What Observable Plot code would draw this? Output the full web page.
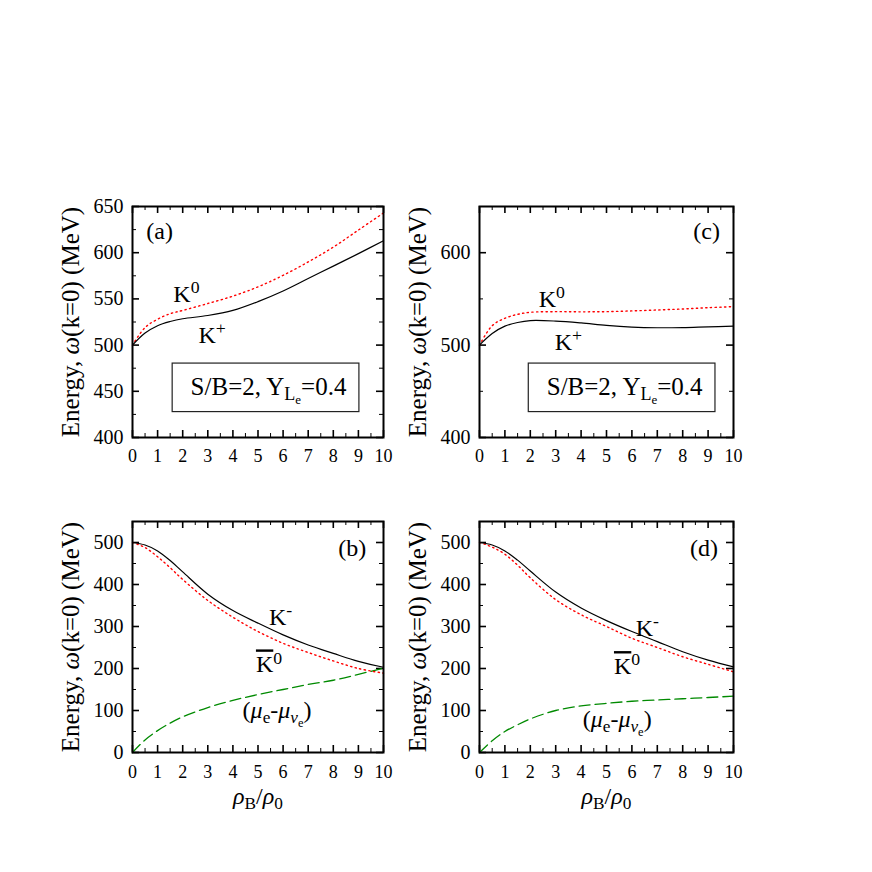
<!DOCTYPE html>
<html><head><meta charset="utf-8">
<script src="https://cdn.jsdelivr.net/npm/d3@7"></script>
<script src="https://cdn.jsdelivr.net/npm/@observablehq/plot@0.6"></script>
<style>
html,body{margin:0;padding:0;background:#fff;}
#chart{position:relative;width:872px;height:872px;background:#fff;overflow:hidden;}
#chart svg{position:absolute;overflow:visible;}
#chart svg text, #chart svg tspan{font-family:'Liberation Serif','DejaVu Serif',serif !important;}
</style></head><body><div id="chart"></div>
<script>
// ---- data (rho_B / rho_0 grid and energies in MeV) ----
const rho = [0, 0.5, 1, 1.5, 2, 3, 4, 5, 6, 7, 8, 9, 10];
// panel (a)
const aKplus  = [500, 513, 521, 525.5, 528.5, 532, 537.5, 547, 558.5, 572, 585.5, 599, 613];
const aK0     = [500, 519, 528, 534, 537.5, 545, 553, 563, 575.5, 590, 606, 624.5, 643];
// panel (c)
const cKplus  = [500, 512.5, 520.5, 524.5, 526.5, 526, 524, 521.3, 519.5, 518.8, 519, 519.8, 520.5];
const cK0     = [500, 521, 529, 533.3, 535.5, 536.2, 536, 536.2, 537, 538, 539.1, 540.5, 541.6];
// panel (b)
const bKminus = [500, 494, 480, 457, 430, 377, 338, 308, 280, 256, 236, 217, 203];
const bK0bar  = [500, 488, 466, 440, 412, 362, 322, 288, 260, 238, 218, 200, 189];
const bMu     = [0, 30, 52, 70, 85, 107, 124, 138, 150, 162, 172, 186, 201];
// panel (d)
const dKminus = [500, 494, 480, 458, 432, 382, 344, 314, 288, 264, 240, 220, 204];
const dK0bar  = [500, 489, 472, 446, 416, 364, 328, 300, 272, 250, 228, 210, 192];
const dMu     = [0, 28, 50, 66, 80, 100, 111, 117, 122, 125, 128, 131, 134];

const xTicks = [0, 1, 2, 3, 4, 5, 6, 7, 8, 9, 10];
const yTicksA = [400, 450, 500, 550, 600, 650];
const yTicksC = [400, 500, 600];
const yTicksB = [0, 100, 200, 300, 400, 500];
const yTicksD = [0, 100, 200, 300, 400, 500];

const yTitle = "Energy, *{ω}(k=0) (MeV)";
const xTitle = "*{ρ}_{B}/*{ρ}_{0}";
const boxText = "S/B=2, Y_{L_{e}}=0.4";
const muText = "(*{μ}_{e}-*{μ}_{*{ν}_{e}})";

// annotation anchors (data units of each panel)
const notesA = [{x: 1.08, y: 623, s: "(a)"}, {x: 2.15, y: 555, s: "K^{0}"}, {x: 3.17, y: 511, s: "K^{+}"}];
const notesC = [{x: 8.94, y: 623, s: "(c)"}, {x: 2.85, y: 550, s: "K^{0}"}, {x: 3.5, y: 503, s: "K^{+}"}];
const notesB = [{x: 8.75, y: 486, s: "(b)"}, {x: 5.9, y: 322, s: "K^{-}"}, {x: 5.44, y: 209, s: "~{K}^{0}"}, {x: 5.76, y: 100, s: muText}];
const notesD = [{x: 8.84, y: 486, s: "(d)"}, {x: 6.61, y: 296, s: "K^{-}"}, {x: 5.81, y: 205, s: "~{K}^{0}"}, {x: 5.42, y: 80, s: muText}];
const boxA = {x1: 1.6, x2: 9.04, y1: 427.5, y2: 480};
const boxC = {x1: 1.94, x2: 9.29, y1: 427.5, y2: 480};

// ---- rendering ----
const FONT = "Liberation Serif";
const STY = {
  solid: {stroke: "#000", strokeWidth: 1.2},
  dotted: {stroke: "#ff0000", strokeWidth: 1.4, strokeDasharray: "1.3,3.4"},
  dashed: {stroke: "#008a00", strokeWidth: 1.3, strokeDasharray: "11,5"}
};
const rows = (vals) => rho.map((x, i) => ({x, y: vals[i]}));

const panels = [
  {id: "a", left: 0, top: 170, width: 392, height: 300, ml: 132, mr: 9, mt: 36, mb: 33,
   yDomain: [400, 650], yTicks: yTicksA, yStep: 25, pad: 12, xlabel: false,
   series: [[aK0, "dotted"], [aKplus, "solid"]], notes: notesA, box: boxA},
  {id: "c", left: 390, top: 170, width: 400, height: 300, ml: 89, mr: 57, mt: 36, mb: 33,
   yDomain: [400, 650], yTicks: yTicksC, yStep: 50, pad: 12, xlabel: false,
   series: [[cK0, "dotted"], [cKplus, "solid"]], notes: notesC, box: boxC},
  {id: "b", left: 0, top: 490, width: 392, height: 320, ml: 132, mr: 9, mt: 31, mb: 58,
   yDomain: [0, 550], yTicks: yTicksB, yStep: 50, pad: 13, xlabel: true,
   series: [[bMu, "dashed"], [bK0bar, "dotted"], [bKminus, "solid"]], notes: notesB},
  {id: "d", left: 390, top: 490, width: 400, height: 320, ml: 89, mr: 57, mt: 31, mb: 58,
   yDomain: [0, 550], yTicks: yTicksD, yStep: 50, pad: 13, xlabel: true,
   series: [[dMu, "dashed"], [dK0bar, "dotted"], [dKminus, "solid"]], notes: notesD}
];

function parseRich(s) {
  let i = 0;
  function seq(inner) {
    const out = []; let buf = "";
    while (i < s.length) {
      const ch = s[i];
      if (inner && ch === "}") { i++; break; }
      if ("^_*~".includes(ch) && s[i + 1] === "{") {
        if (buf) { out.push({t: buf}); buf = ""; }
        i += 2;
        out.push({k: ch, c: seq(true)});
        continue;
      }
      buf += ch; i++;
    }
    if (buf) out.push({t: buf});
    return out;
  }
  return seq(false);
}
function flatten(nodes, st, out) {
  for (const n of nodes) {
    if (n.t !== undefined) { out.push({text: n.t, ...st}); continue; }
    const s2 = {...st};
    if (n.k === "^") { s2.size = st.size * 0.74; s2.off = st.off - st.size * 0.36; }
    else if (n.k === "_") { s2.size = st.size * 0.72; s2.off = st.off + st.size * 0.22; }
    else if (n.k === "*") s2.it = true;
    else if (n.k === "~") s2.bar = true;
    flatten(n.c, s2, out);
  }
  return out;
}
function richify(svg) {
  svg.querySelectorAll("text").forEach(el => {
    el.style.fontFamily = "'Liberation Serif', 'DejaVu Serif', serif";
    const s = el.textContent;
    if (!/[\^_*~]\{/.test(s)) return;
    const base = parseFloat(getComputedStyle(el).fontSize) || 18;
    const leaves = flatten(parseRich(s), {size: base, off: 0, it: false, bar: false}, []);
    while (el.firstChild) el.removeChild(el.firstChild);
    let cur = 0;
    for (const l of leaves) {
      const t = document.createElementNS("http://www.w3.org/2000/svg", "tspan");
      t.setAttribute("font-size", l.size.toFixed(2));
      if (l.off !== cur) { t.setAttribute("dy", (l.off - cur).toFixed(2)); cur = l.off; }
      if (l.it) t.setAttribute("font-style", "italic");
      if (l.bar) t.setAttribute("text-decoration", "overline");
      t.textContent = l.text;
      el.appendChild(t);
    }
  });
}

const chart = document.getElementById("chart");
for (const p of panels) {
  const fw = p.width - p.ml - p.mr, fh = p.height - p.mt - p.mb;
  const yMinor = d3.range(p.yDomain[0], p.yDomain[1] + 0.001, p.yStep).filter(v => !p.yTicks.includes(v));
  const xMinor = d3.range(0.5, 10, 1);
  const M = 7, m = 4;
  const marks = [
    Plot.tickX(xTicks, {x: d => d, insetTop: fh - M, strokeWidth: 1.6}),
    Plot.tickX(xTicks, {x: d => d, insetBottom: fh - M, strokeWidth: 1.6}),
    Plot.tickX(xMinor, {x: d => d, insetTop: fh - m, strokeWidth: 1}),
    Plot.tickX(xMinor, {x: d => d, insetBottom: fh - m, strokeWidth: 1}),
    Plot.tickY(p.yTicks, {y: d => d, insetRight: fw - M, strokeWidth: 1.6}),
    Plot.tickY(p.yTicks, {y: d => d, insetLeft: fw - M, strokeWidth: 1.6}),
    Plot.tickY(yMinor, {y: d => d, insetRight: fw - m, strokeWidth: 1}),
    Plot.tickY(yMinor, {y: d => d, insetLeft: fw - m, strokeWidth: 1}),
    Plot.axisX({ticks: xTicks, tickSize: 0, tickPadding: p.pad, label: null, fontSize: 18, fontFamily: FONT}),
    Plot.axisY({ticks: p.yTicks, tickSize: 0, tickPadding: 9, label: null, fontSize: 20, fontFamily: FONT}),
    Plot.text([yTitle], {frameAnchor: "left", textAnchor: "middle", lineAnchor: "middle", dx: -62, rotate: -90, fontSize: 25, fontFamily: FONT, text: d => d})
  ];
  if (p.xlabel) marks.push(Plot.text([xTitle], {frameAnchor: "bottom", textAnchor: "middle", lineAnchor: "middle", dy: 44, fontSize: 24, fontFamily: FONT, text: d => d}));
  for (const [vals, kind] of p.series) {
    marks.push(Plot.line(rows(vals), {x: "x", y: "y", curve: "catmull-rom", ...STY[kind]}));
  }
  if (p.box) {
    marks.push(Plot.rect([p.box], {x1: "x1", x2: "x2", y1: "y1", y2: "y2", fill: "none", stroke: "#222", strokeWidth: 1.2}));
    marks.push(Plot.text([boxText], {x: (p.box.x1 + p.box.x2) / 2 + 0.1, y: (p.box.y1 + p.box.y2) / 2 + 1, text: d => d, fontSize: 25, fontFamily: FONT}));
  }
  marks.push(Plot.text(p.notes, {x: "x", y: "y", text: "s", fontSize: 24, fontFamily: FONT}));
  marks.push(Plot.frame({stroke: "#000", strokeWidth: 2}));
  const svg = Plot.plot({
    width: p.width, height: p.height,
    marginLeft: p.ml, marginRight: p.mr, marginTop: p.mt, marginBottom: p.mb,
    x: {domain: [0, 10]},
    y: {domain: p.yDomain},
    style: {fontFamily: FONT, fontSize: "18px", color: "#000", background: "transparent", overflow: "visible"},
    marks
  });
  svg.style.left = p.left + "px";
  svg.style.top = p.top + "px";
  chart.appendChild(svg);
  richify(svg);
}
</script></body></html>
